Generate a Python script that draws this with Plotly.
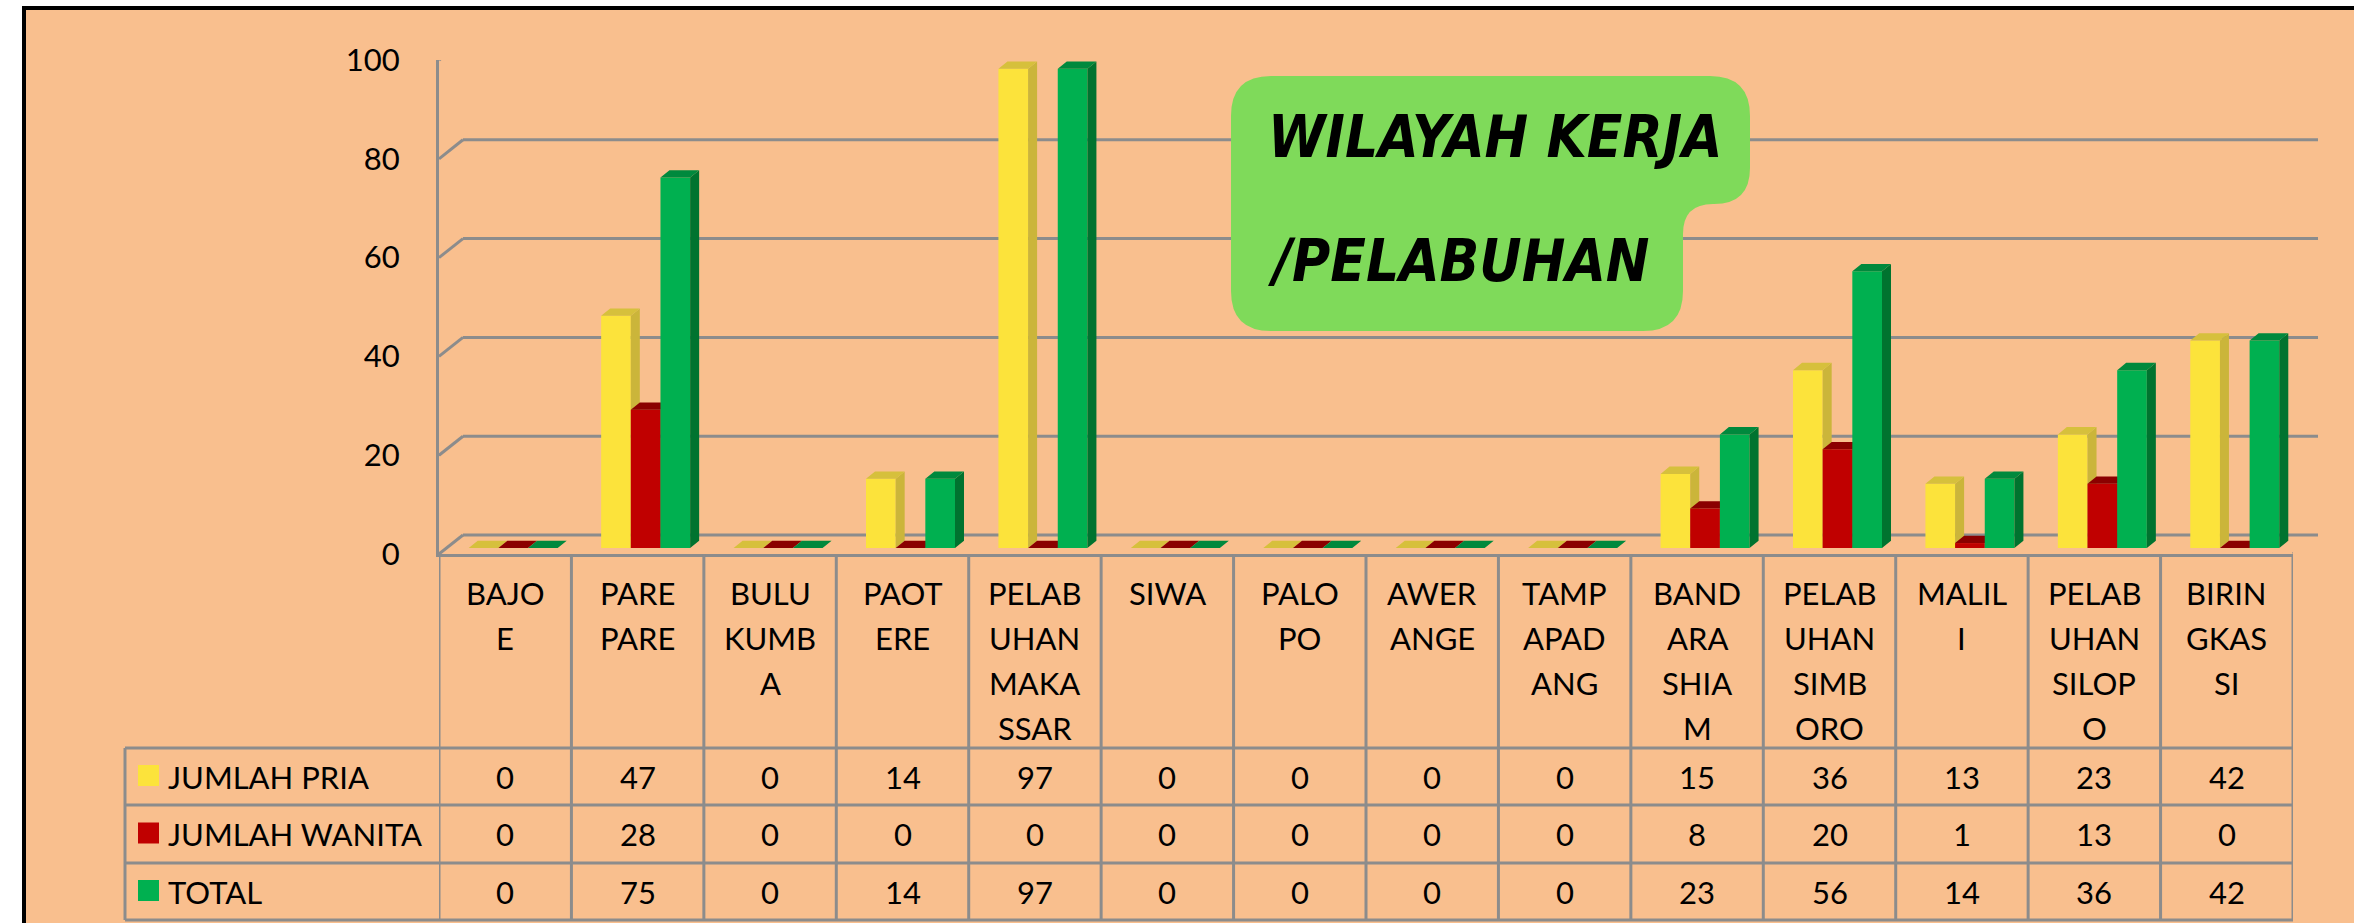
import plotly.graph_objects as go

# ---------------- data ----------------
category_labels = ["BAJO\nE", "PARE\nPARE", "BULU\nKUMB\nA", "PAOT\nERE",
                   "PELAB\nUHAN\nMAKA\nSSAR", "SIWA", "PALO\nPO", "AWER\nANGE",
                   "TAMP\nAPAD\nANG", "BAND\nARA\nSHIA\nM", "PELAB\nUHAN\nSIMB\nORO",
                   "MALIL\nI", "PELAB\nUHAN\nSILOP\nO", "BIRIN\nGKAS\nSI"]
series_names = ["JUMLAH PRIA", "JUMLAH WANITA", "TOTAL"]
jumlah_pria = [0, 47, 0, 14, 97, 0, 0, 0, 0, 15, 36, 13, 23, 42]
jumlah_wanita = [0, 28, 0, 0, 0, 0, 0, 0, 0, 8, 20, 1, 13, 0]
total = [0, 75, 0, 14, 97, 0, 0, 0, 0, 23, 56, 14, 36, 42]
y_ticks = [0, 20, 40, 60, 80, 100]
title_lines = ["WILAYAH KERJA", "/PELABUHAN"]

# ---------------- style ----------------
W, H = 2354, 923
PEACH = "#F9BF8E"
GRID = "#8C8C8C"
FONT = "Lato, 'Open Sans', sans-serif"
FS = 31
TITLE_FONT = ("'Noto Sans ExtraCondensed', 'Noto Sans Condensed', 'Liberation Sans Narrow', "
              "'DejaVu Sans Condensed', Lato, sans-serif")
front_cols = ["#FCE33B", "#C00000", "#00B050"]
side_cols = ["#CBB53A", "#8B0000", "#00732F"]
top_cols = ["#D6C03C", "#8B0000", "#00893D"]
bar_w = 0.224
offsets = [-0.336, -0.112, 0.112]
ddx = 9 / 132.43      # bar depth in category units
ddy = 7.3 / 4.94      # bar depth in value units


def px(x):
    return x / W


def py(y):
    return 1 - y / H


series = [jumlah_pria, jumlah_wanita, total]
n = len(category_labels)
idx = list(range(n))

fig = go.Figure()
# dummy trace so the front-plane axes render
fig.add_trace(go.Scatter(x=[0], y=[0], mode="markers", marker=dict(opacity=0),
                         hoverinfo="skip", showlegend=False, xaxis="x", yaxis="y"))

axis_pairs = [("x2", "y2"), ("x3", "y3"), ("x4", "y4")]
for k, vals in enumerate(series):
    xa, ya = axis_pairs[k]
    fig.add_trace(go.Bar(x=idx, y=vals, width=bar_w, offset=offsets[k],
                         marker=dict(color=front_cols[k], line=dict(width=0)),
                         name=series_names[k], showlegend=False, xaxis=xa, yaxis=ya))
    sx, sy, tx, ty = [], [], [], []
    for i, v in enumerate(vals):
        xl = i + offsets[k]
        xr = xl + bar_w
        if v > 0:
            sx += [xr, xr + ddx, xr + ddx, xr, xr, None]
            sy += [0, ddy, v + ddy, v, 0, None]
        tx += [xl, xr, xr + ddx, xl + ddx, xl, None]
        ty += [v, v, v + ddy, v + ddy, v, None]
    fig.add_trace(go.Scatter(x=sx, y=sy, mode="lines", fill="toself",
                             fillcolor=side_cols[k], line=dict(width=0, color=side_cols[k]),
                             hoverinfo="skip", showlegend=False, xaxis=xa, yaxis=ya))
    fig.add_trace(go.Scatter(x=tx, y=ty, mode="lines", fill="toself",
                             fillcolor=top_cols[k], line=dict(width=0, color=top_cols[k]),
                             hoverinfo="skip", showlegend=False, xaxis=xa, yaxis=ya))

shapes = []
# outer frame
shapes.append(dict(type="rect", xref="paper", yref="paper", x0=px(24), x1=px(2400),
                   y0=py(8), y1=py(980), fillcolor=PEACH,
                   line=dict(color="black", width=4), layer="below"))
# back wall gridlines + left wall diagonals
for v in y_ticks:
    shapes.append(dict(type="line", xref="paper", x0=px(463), x1=px(2318),
                       yref="y", ysizemode="pixel", yanchor=v, y0=19, y1=19,
                       line=dict(color=GRID, width=3), layer="below"))
    shapes.append(dict(type="line", xref="x", xsizemode="pixel", xanchor=-0.5, x0=0, x1=24,
                       yref="y", ysizemode="pixel", yanchor=v, y0=0, y1=19,
                       line=dict(color=GRID, width=3), layer="below"))
# floor right edge
shapes.append(dict(type="line", xref="x", xsizemode="pixel", xanchor=n - 0.5, x0=0, x1=25,
                   yref="y", ysizemode="pixel", yanchor=0, y0=0, y1=19,
                   line=dict(color=GRID, width=3), layer="below"))
# table
for k in range(n + 1):
    shapes.append(dict(type="line", xref="x", x0=k - 0.5, x1=k - 0.5, yref="paper",
                       y0=py(554), y1=py(920), line=dict(color=GRID, width=3)))
for yy in [748, 805, 863, 920]:
    shapes.append(dict(type="line", xref="paper", x0=px(125), x1=px(2293), yref="paper",
                       y0=py(yy), y1=py(yy), line=dict(color=GRID, width=3)))
shapes.append(dict(type="line", xref="paper", x0=px(125), x1=px(125), yref="paper",
                   y0=py(748), y1=py(920), line=dict(color=GRID, width=3)))
row_centers = [776.5, 834, 891.5]
for k in range(3):
    c = row_centers[k] - 1
    shapes.append(dict(type="rect", xref="paper", yref="paper", x0=px(138), x1=px(159),
                       y0=py(c + 10.5), y1=py(c - 10.5), fillcolor=front_cols[k],
                       line=dict(width=0)))

# title box path (pixel -> paper)
L, T, R1, NY, R2, B = 1231, 76, 1750, 204, 1683, 331
r, r2, r3 = 40, 36, 30
pts = [
    ("M", L + r, T), ("L", R1 - r, T), ("Q", R1, T, R1, T + r), ("L", R1, NY - r2),
    ("Q", R1, NY, R1 - r2, NY), ("L", R2 + r3, NY), ("Q", R2, NY, R2, NY + r3),
    ("L", R2, B - r), ("Q", R2, B, R2 - r, B), ("L", L + r, B), ("Q", L, B, L, B - r),
    ("L", L, T + r), ("Q", L, T, L + r, T),
]
path = ""
for p in pts:
    cmd = p[0]
    coords = p[1:]
    s = []
    for j in range(0, len(coords), 2):
        s.append(f"{px(coords[j]):.6f},{py(coords[j + 1]):.6f}")
    path += cmd + " " + " ".join(s) + " "
path += "Z"
shapes.append(dict(type="path", xref="paper", yref="paper", path=path,
                   fillcolor="#7FDA5A", line=dict(width=0)))

annotations = []
# category labels
for i, lab in enumerate(category_labels):
    for j, line in enumerate(lab.split("\n")):
        annotations.append(dict(x=i, xref="x", y=py(593 + 45 * j), yref="paper",
                                text=line, showarrow=False, xanchor="center", yanchor="middle",
                                font=dict(family=FONT, size=FS, color="black")))
# table values and legend
for k, vals in enumerate(series):
    yc = py(row_centers[k])
    annotations.append(dict(x=px(166), xref="paper", y=yc, yref="paper", text=series_names[k],
                            showarrow=False, xanchor="left", yanchor="middle",
                            font=dict(family=FONT, size=FS, color="black")))
    for i, v in enumerate(vals):
        annotations.append(dict(x=i, xref="x", y=yc, yref="paper", text=str(v),
                                showarrow=False, xanchor="center", yanchor="middle",
                                font=dict(family=FONT, size=FS, color="black")))
# title
for j, t in enumerate(title_lines):
    annotations.append(dict(x=px(1266), xref="paper", y=py(137 + 124 * j), yref="paper",
                            text=t, showarrow=False, xanchor="left", yanchor="middle",
                            font=dict(family=TITLE_FONT, size=58, color="black",
                                      weight="bold", style="italic")))

hidden = dict(visible=False, showgrid=False, zeroline=False, fixedrange=True, automargin=False)
fig.update_layout(
    width=W, height=H, margin=dict(l=0, r=0, t=0, b=0, pad=0, autoexpand=False),
    paper_bgcolor="white", plot_bgcolor="rgba(0,0,0,0)",
    barmode="overlay", showlegend=False,
    xaxis=dict(domain=[px(439), px(2293)], range=[-0.5, n - 0.5], anchor="y",
               showline=True, linecolor=GRID, linewidth=3, showticklabels=False,
               ticks="", showgrid=False, zeroline=False, fixedrange=True, automargin=False),
    yaxis=dict(domain=[py(554), py(60)], range=[0, 100], anchor="x",
               showline=True, linecolor=GRID, linewidth=3, tickvals=y_ticks,
               ticks="outside", ticklen=30, tickcolor="rgba(0,0,0,0)",
               tickfont=dict(family=FONT, size=FS, color="black"),
               showgrid=False, zeroline=False, fixedrange=True, automargin=False),
    xaxis2=dict(domain=[px(447), px(2301)], range=[-0.5, n - 0.5], anchor="y2", **hidden),
    yaxis2=dict(domain=[py(548), py(54)], range=[0, 100], anchor="x2", **hidden),
    xaxis3=dict(overlaying="x2", range=[-0.5, n - 0.5], anchor="y3", **hidden),
    yaxis3=dict(overlaying="y2", range=[0, 100], anchor="x3", **hidden),
    xaxis4=dict(overlaying="x2", range=[-0.5, n - 0.5], anchor="y4", **hidden),
    yaxis4=dict(overlaying="y2", range=[0, 100], anchor="x4", **hidden),
    shapes=shapes, annotations=annotations,
)

fig.write_html("out.html")
